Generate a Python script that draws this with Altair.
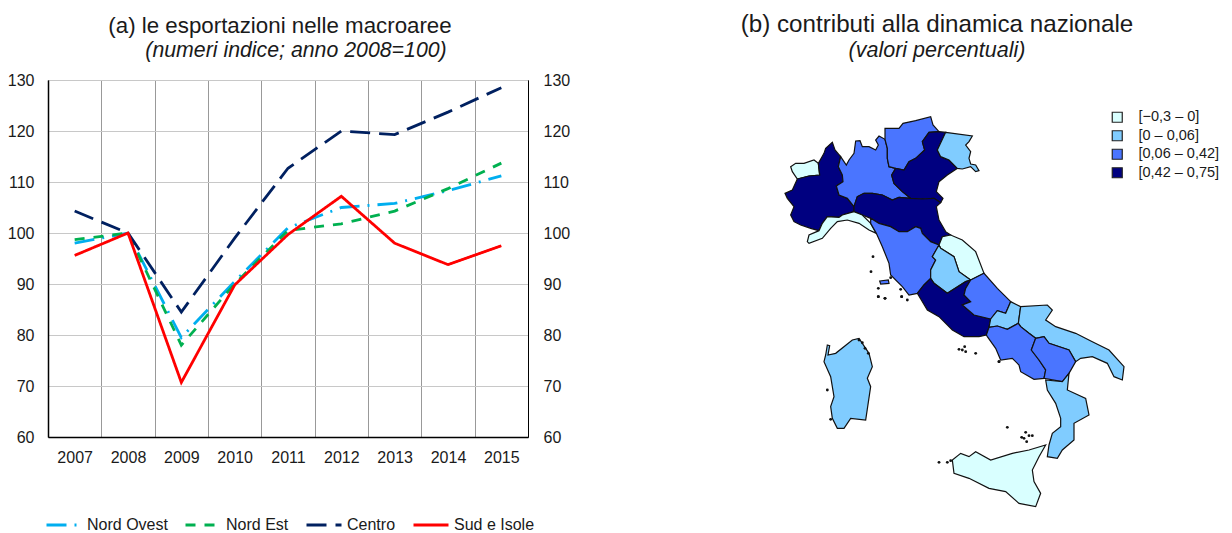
import altair as alt
import pandas as pd

FONT = "Liberation Sans"
anni = ["2007", "2008", "2009", "2010", "2011", "2012", "2013", "2014", "2015"]
serie_nomi = ["Nord Ovest", "Nord Est", "Centro", "Sud e Isole"]
nord_ovest = [98.0, 100, 79.5, 90.5, 101.0, 105.0, 105.8, 108.3, 111.2]
nord_est = [98.7, 100, 78.0, 90.0, 100.5, 101.8, 104.3, 108.7, 113.7]
centro = [104.3, 100, 84.5, 99.0, 112.7, 120.0, 119.3, 123.7, 128.5]
sud = [95.6, 100, 70.7, 89.8, 99.7, 107.2, 98.0, 93.8, 97.5]
colori = ["#00AEEF", "#00B050", "#002060", "#FF0000"]
tratti = [[20, 8, 2, 8], [10, 9], [20, 9], [1, 0]]

classi = ["[\u22120,3 \u2013 0]", "[0 \u2013 0,06]", "[0,06 \u2013 0,42]", "[0,42 \u2013 0,75]"]
colori_classi = ["#D9FFFF", "#80CCFF", "#4A75FF", "#000080"]

# Region outlines, map coordinates
valle_aosta = [[95,200],[110,190],[135,190],[165,180],[178,190],[182,225],[150,228],[115,237],[100,215]]
piemonte = [[115,237],[150,228],[182,225],[178,190],[195,160],[200,145],[220,127],[228,150],[245,170],[238,200],[250,225],[252,245],[232,258],[240,285],[265,295],[285,320],[285,335],[250,345],[240,352],[205,350],[190,370],[180,392],[155,385],[125,375],[105,365],[95,345],[105,320],[85,295],[78,280],[100,270]]
lombardia = [[245,170],[262,195],[270,180],[285,160],[290,123],[303,122],[310,140],[330,140],[350,150],[358,135],[350,120],[360,108],[378,118],[385,145],[385,175],[390,200],[410,205],[398,225],[405,250],[430,275],[455,295],[420,292],[400,300],[370,285],[340,280],[315,280],[295,290],[285,320],[265,295],[240,285],[232,258],[252,245],[250,225],[238,200]]
trentino = [[378,118],[378,85],[420,85],[432,70],[470,62],[515,50],[522,75],[540,95],[510,97],[490,125],[497,150],[470,175],[450,185],[435,210],[410,205],[390,200],[385,175],[385,145]]
veneto = [[510,97],[540,95],[560,97],[535,150],[545,170],[570,180],[595,205],[565,225],[540,245],[532,275],[552,295],[545,308],[525,295],[490,297],[455,295],[430,275],[405,250],[398,225],[410,205],[435,210],[450,185],[470,175],[497,150],[490,125]]
friuli = [[560,97],[640,108],[630,125],[620,135],[635,155],[630,175],[635,192],[650,195],[660,212],[650,215],[635,200],[610,207],[595,205],[570,180],[545,170],[535,150]]
emilia = [[295,290],[315,280],[340,280],[370,285],[400,300],[420,292],[455,295],[490,297],[525,295],[545,308],[532,320],[540,360],[560,395],[575,405],[550,410],[540,435],[515,425],[490,400],[485,385],[470,380],[445,395],[420,395],[395,380],[360,370],[335,355],[310,345],[285,335],[285,320]]
liguria = [[145,425],[150,405],[180,392],[190,370],[205,350],[240,352],[250,345],[285,335],[310,345],[335,370],[352,400],[330,390],[300,370],[265,360],[235,365],[215,385],[190,415],[150,430]]
toscana = [[335,355],[360,370],[395,380],[420,395],[445,395],[470,380],[485,385],[490,400],[515,425],[540,435],[520,470],[530,480],[515,510],[515,535],[495,555],[475,580],[450,585],[430,560],[395,525],[390,490],[370,440],[352,400],[335,370]]
marche = [[540,435],[550,410],[575,405],[610,420],[650,455],[675,520],[635,540],[600,515],[585,470],[545,445]]
umbria = [[545,445],[585,470],[600,515],[635,540],[620,545],[565,580],[525,550],[515,535],[515,510],[530,480],[520,470],[540,435]]
lazio = [[475,580],[495,555],[515,535],[525,550],[565,580],[620,545],[635,540],[620,565],[615,585],[635,605],[610,615],[645,645],[695,657],[690,682],[682,705],[660,710],[615,710],[580,690],[540,650],[505,630]]
abruzzo = [[635,540],[675,520],[715,565],[755,605],[740,640],[715,632],[695,657],[645,645],[610,615],[635,605],[615,585],[620,565]]
molise = [[695,657],[715,632],[740,640],[755,605],[785,620],[778,670],[745,688],[715,678],[690,682]]
puglia = [[785,620],[865,615],[880,630],[860,660],[890,680],[950,700],[1000,725],[1050,750],[1095,800],[1090,840],[1065,830],[1045,790],[1000,770],[965,775],[950,785],[930,750],[870,730],[855,710],[830,715],[810,700],[785,680],[778,670]]
campania = [[690,682],[715,678],[745,688],[778,670],[785,680],[810,700],[830,715],[817,750],[840,780],[860,810],[855,835],[825,838],[785,815],[780,795],[760,775],[725,780],[710,745],[685,710],[682,705]]
basilicata = [[830,715],[855,710],[870,730],[930,750],[950,785],[930,820],[910,845],[855,835],[860,810],[840,780],[817,750]]
calabria = [[860,840],[910,845],[930,820],[925,870],[980,895],[990,945],[945,970],[945,1020],[910,1050],[895,1075],[865,1070],[870,1035],[880,1000],[905,980],[905,955],[890,910],[865,870]]
sicilia = [[860,1035],[840,1070],[820,1110],[825,1145],[845,1180],[830,1220],[780,1210],[740,1175],[690,1165],[630,1135],[585,1120],[580,1080],[605,1060],[630,1070],[650,1055],[695,1080],[760,1060],[810,1050]]
sardegna = [[205,735],[212,737],[207,765],[230,760],[280,720],[300,715],[330,760],[340,800],[325,835],[335,860],[320,960],[275,955],[255,985],[235,985],[220,955],[215,920],[225,890],[215,830],[195,785],[200,765]]
elba = [[362,543],[388,540],[390,550],[365,552]]
isole_lon = [342,336,358,378,358,428,445,395,425,378,358,428,600,720,610,617,620,650,720,745,788,810,820,800,795,803,540,565,575,300,310,318,328,205,215]
isole_lat = [470,515,565,595,590,590,600,533,568,595,590,590,748,785,750,740,755,760,785,982,1012,1007,1007,997,1015,1025,1087,1087,1082,720,728,745,760,870,958]

regioni = [
    ("Valle d'Aosta", valle_aosta, 0), ("Piemonte", piemonte, 3), ("Lombardia", lombardia, 2),
    ("Trentino", trentino, 2), ("Veneto", veneto, 3), ("Friuli", friuli, 1),
    ("Emilia-Romagna", emilia, 3), ("Liguria", liguria, 0), ("Toscana", toscana, 2),
    ("Marche", marche, 0), ("Umbria", umbria, 1), ("Lazio", lazio, 3), ("Abruzzo", abruzzo, 2),
    ("Molise", molise, 1), ("Puglia", puglia, 1), ("Campania", campania, 2),
    ("Basilicata", basilicata, 2), ("Calabria", calabria, 1), ("Sicilia", sicilia, 0),
    ("Sardegna", sardegna, 1), ("Elba", elba, 2),
]

features = [
    {"type": "Feature",
     "properties": {"regione": n, "classe": classi[c]},
     "geometry": {"type": "Polygon", "coordinates": [p + [p[0]]]}}
    for n, p, c in regioni
]

righe = []
for nome, valori in zip(serie_nomi, [nord_ovest, nord_est, centro, sud]):
    for a, v in zip(anni, valori):
        righe.append({"anno": a, "serie": nome, "valore": v})
df = pd.DataFrame(righe)

y_scale = alt.Scale(domain=[60, 130], nice=False)
x_enc = alt.X("anno:N", sort=anni, title=None, axis=alt.Axis(
    labelAngle=0, tickBand="extent", grid=True, gridColor="#999999", gridWidth=1,
    ticks=False, labelPadding=12, domainColor="#000000", domainWidth=1.5,
    labelFontSize=16, labelColor="#1a1a1a", labelFont=FONT))

legenda = alt.Legend(title=None, orient="none", legendX=-3, legendY=426, direction="horizontal",
                     columns=4, gridAlign="each", symbolType="stroke", symbolSize=1225,
                     symbolStrokeWidth=3, labelFontSize=16, labelFont=FONT, labelColor="#1a1a1a",
                     labelOffset=4, columnPadding=11, labelLimit=200)

linee = alt.Chart(df).mark_line(strokeWidth=2.8).encode(
    x=x_enc,
    y=alt.Y("valore:Q", scale=y_scale, title=None, axis=alt.Axis(
        values=[60, 70, 80, 90, 100, 110, 120, 130], grid=True, gridColor="#c8c8c8", gridWidth=1.2,
        ticks=False, labelPadding=14, domainColor="#000000", domainWidth=1.5, minExtent=38, maxExtent=38,
        labelFontSize=16, labelColor="#1a1a1a", labelFont=FONT)),
    color=alt.Color("serie:N", sort=serie_nomi, scale=alt.Scale(domain=serie_nomi, range=colori), legend=legenda),
    strokeDash=alt.StrokeDash("serie:N", sort=serie_nomi, scale=alt.Scale(domain=serie_nomi, range=tratti), legend=legenda),
)
asse_destro = alt.Chart(df).mark_line(opacity=0).encode(
    x=x_enc,
    y=alt.Y("valore:Q", scale=y_scale, title=None, axis=alt.Axis(
        orient="right", values=[60, 70, 80, 90, 100, 110, 120, 130], grid=False, ticks=False,
        labelPadding=15, domainColor="#000000", domainWidth=1, labelFontSize=16,
        labelColor="#1a1a1a", labelFont=FONT)),
    detail="serie:N",
)
sottotitolo_a = alt.Chart(pd.DataFrame({"t": ["(numeri indice; anno 2008=100)"]})).mark_text(
    font=FONT, fontSize=21.3, fontStyle="italic", color="#1a1a1a").encode(
    text="t:N", x=alt.value(248), y=alt.value(-29))

pannello_a = alt.layer(linee, asse_destro, sottotitolo_a).resolve_scale(y="independent", x="shared").properties(
    width=480, height=357,
    view=alt.ViewBackground(stroke="#000000", strokeWidth=1),
    title=alt.TitleParams("(a) le esportazioni nelle macroaree", font=FONT, fontSize=22.3, fontWeight="normal",
                          color="#1a1a1a", dx=-8, offset=3, anchor="middle"),
)

proiezione = alt.Projection(type="identity", scale=1 / 3, translate=[100, 20])
mappa = alt.Chart(alt.Data(values=features)).mark_geoshape(stroke="#111111", strokeWidth=1.2).encode(
    fill=alt.Fill("properties.classe:N", sort=classi,
                  scale=alt.Scale(domain=classi, range=colori_classi),
                  legend=alt.Legend(title=None, orient="none", legendX=1062, legendY=30, symbolType="square",
                                    symbolSize=100, symbolStrokeColor="#222222", symbolStrokeWidth=1.2,
                                    labelFontSize=14.5, labelFont=FONT, labelColor="#1a1a1a",
                                    rowPadding=2.5, labelOffset=14, labelLimit=200)),
).properties(projection=proiezione)
isole = alt.Chart(pd.DataFrame({"lon": isole_lon, "lat": isole_lat})).mark_circle(size=8, color="#111111", opacity=1).encode(
    longitude="lon:Q", latitude="lat:Q").properties(projection=proiezione)

sottotitolo_b = alt.Chart(pd.DataFrame({"t": ["(valori percentuali)"]})).mark_text(
    font=FONT, fontSize=21.5, fontStyle="italic", color="#1a1a1a").encode(
    text="t:N", x=alt.value(278), y=alt.value(-29))

pannello_b = alt.layer(mappa, isole, sottotitolo_b).properties(
    width=556, height=440,
    title=alt.TitleParams("(b) contributi alla dinamica nazionale", font=FONT, fontSize=24.2, fontWeight="normal",
                          color="#1a1a1a", offset=3, anchor="middle"),
)

chart = alt.hconcat(pannello_a, pannello_b, spacing=88).configure_view(stroke=None).properties(
    padding={"left": -2, "top": 4, "right": 0, "bottom": 0}
)
chart.save("out.html", embed_options={"renderer": "svg", "actions": False})
